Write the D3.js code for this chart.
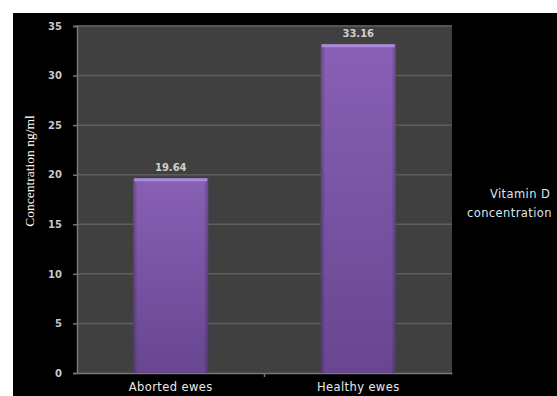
<!DOCTYPE html>
<html>
<head>
<meta charset="utf-8">
<script src="https://cdn.jsdelivr.net/npm/d3@7"></script>
<style>
  body { margin: 0; background: #fff; }
  svg { display: block; }
</style>
</head>
<body>
<div id="chart"></div>
<script>
// values
var categories = ["Aborted ewes", "Healthy ewes"]
var values = [19.64, 33.16]
var yTicks = [0, 5, 10, 15, 20, 25, 30, 35]
var seriesName = ["Vitamin D", "concentration"]

var width = 557, height = 396

var svg = d3.select("#chart").append("svg")
    .attr("width", width)
    .attr("height", height)

var defs = svg.append("defs")
var grad = defs.append("linearGradient")
    .attr("id", "barFill").attr("x1", 0).attr("y1", 0).attr("x2", 0).attr("y2", 1)
grad.append("stop").attr("offset", "0%").attr("stop-color", "#8860b5")
grad.append("stop").attr("offset", "100%").attr("stop-color", "#684690")

var side = defs.append("linearGradient")
    .attr("id", "barSide").attr("x1", 0).attr("y1", 0).attr("x2", 1).attr("y2", 0)
side.append("stop").attr("offset", "0%").attr("stop-color", "#000").attr("stop-opacity", 0.25)
side.append("stop").attr("offset", "6%").attr("stop-color", "#000").attr("stop-opacity", 0)
side.append("stop").attr("offset", "94%").attr("stop-color", "#000").attr("stop-opacity", 0)
side.append("stop").attr("offset", "100%").attr("stop-color", "#000").attr("stop-opacity", 0.25)

// black chart area
svg.append("rect")
    .attr("x", 13).attr("y", 13)
    .attr("width", width - 13).attr("height", height - 13)
    .attr("fill", "#000")

var plot = { left: 77, right: 452, top: 26, bottom: 373 }

var x = d3.scaleBand()
    .domain(categories)
    .range([plot.left, plot.right])
    .paddingInner(0.6)
    .paddingOuter(0.3)

var y = d3.scaleLinear()
    .domain([0, 35])
    .range([plot.bottom, plot.top])

// plot background
svg.append("rect")
    .attr("x", plot.left).attr("y", plot.top - 1)
    .attr("width", plot.right - plot.left).attr("height", plot.bottom - plot.top + 1)
    .attr("fill", "#404040")

// grid lines
svg.append("g")
    .selectAll("line")
    .data(yTicks.filter(d => d > 0))
    .join("line")
    .attr("x1", plot.left).attr("x2", plot.right)
    .attr("y1", d => y(d)).attr("y2", d => y(d))
    .attr("stroke", "#5e5e5e")
    .attr("stroke-width", 1.5)

// y axis
var yAxis = svg.append("g")
    .attr("transform", "translate(" + plot.left + ",0)")
    .call(d3.axisLeft(y).tickValues(yTicks).tickSize(4).tickPadding(11))
yAxis.select(".domain").attr("stroke", "#777").attr("stroke-width", 1.5)
yAxis.selectAll(".tick line").attr("stroke", "#777").attr("stroke-width", 1.5)
yAxis.selectAll(".tick text")
    .attr("fill", "#c8c8c8")
    .attr("font-family", "'DejaVu Sans', sans-serif")
    .attr("font-weight", "bold")
    .attr("font-size", 10)

// x axis
var xAxis = svg.append("g")
    .attr("transform", "translate(0," + plot.bottom + ")")
    .call(d3.axisBottom(x).tickSize(0).tickPadding(10))
xAxis.select(".domain").attr("stroke", "#777").attr("stroke-width", 1.5)
xAxis.selectAll(".tick text")
    .attr("fill", "#e8e8e8")
    .attr("font-family", "'DejaVu Sans', sans-serif")
    .attr("font-size", 11.5)
    .attr("letter-spacing", 0.4)
svg.append("line")
    .attr("x1", (plot.left + plot.right) / 2).attr("x2", (plot.left + plot.right) / 2)
    .attr("y1", plot.bottom).attr("y2", plot.bottom + 4)
    .attr("stroke", "#777").attr("stroke-width", 1.5)

// bars
var bars = svg.append("g")
    .selectAll("g")
    .data(values)
    .join("g")

bars.append("rect")
    .attr("x", (d, i) => x(categories[i]))
    .attr("y", d => y(d))
    .attr("width", x.bandwidth())
    .attr("height", d => y(0) - y(d))
    .attr("fill", "url(#barFill)")

bars.append("rect")
    .attr("x", (d, i) => x(categories[i]))
    .attr("y", d => y(d))
    .attr("width", x.bandwidth())
    .attr("height", d => y(0) - y(d))
    .attr("fill", "url(#barSide)")

bars.append("rect")
    .attr("x", (d, i) => x(categories[i]) + 1)
    .attr("y", d => y(d))
    .attr("width", x.bandwidth() - 2)
    .attr("height", 3)
    .attr("fill", "#a98bd6")

bars.append("text")
    .attr("x", (d, i) => x(categories[i]) + x.bandwidth() / 2)
    .attr("y", d => y(d) - 7)
    .attr("text-anchor", "middle")
    .attr("fill", "#cfcfcf")
    .attr("font-family", "'DejaVu Sans', sans-serif")
    .attr("font-weight", "bold")
    .attr("font-size", 10)
    .text(d => d3.format(".2f")(d))

// y axis title
svg.append("text")
    .attr("transform", "translate(34,171) rotate(-90)")
    .attr("text-anchor", "middle")
    .attr("fill", "#fff")
    .attr("font-family", "'Liberation Serif', 'DejaVu Serif', serif")
    .attr("font-size", 13.5)
    .text("Concentration  ng/ml")

// legend
svg.append("g")
    .selectAll("text")
    .data(seriesName)
    .join("text")
    .attr("x", (d, i) => i == 0 ? 490 : 467)
    .attr("y", (d, i) => 198 + i * 19)
    .attr("fill", "#dde6f0")
    .attr("font-family", "'DejaVu Sans', sans-serif")
    .attr("font-size", 11.5)
    .attr("letter-spacing", 0.4)
    .text(d => d)
</script>
</body>
</html>
